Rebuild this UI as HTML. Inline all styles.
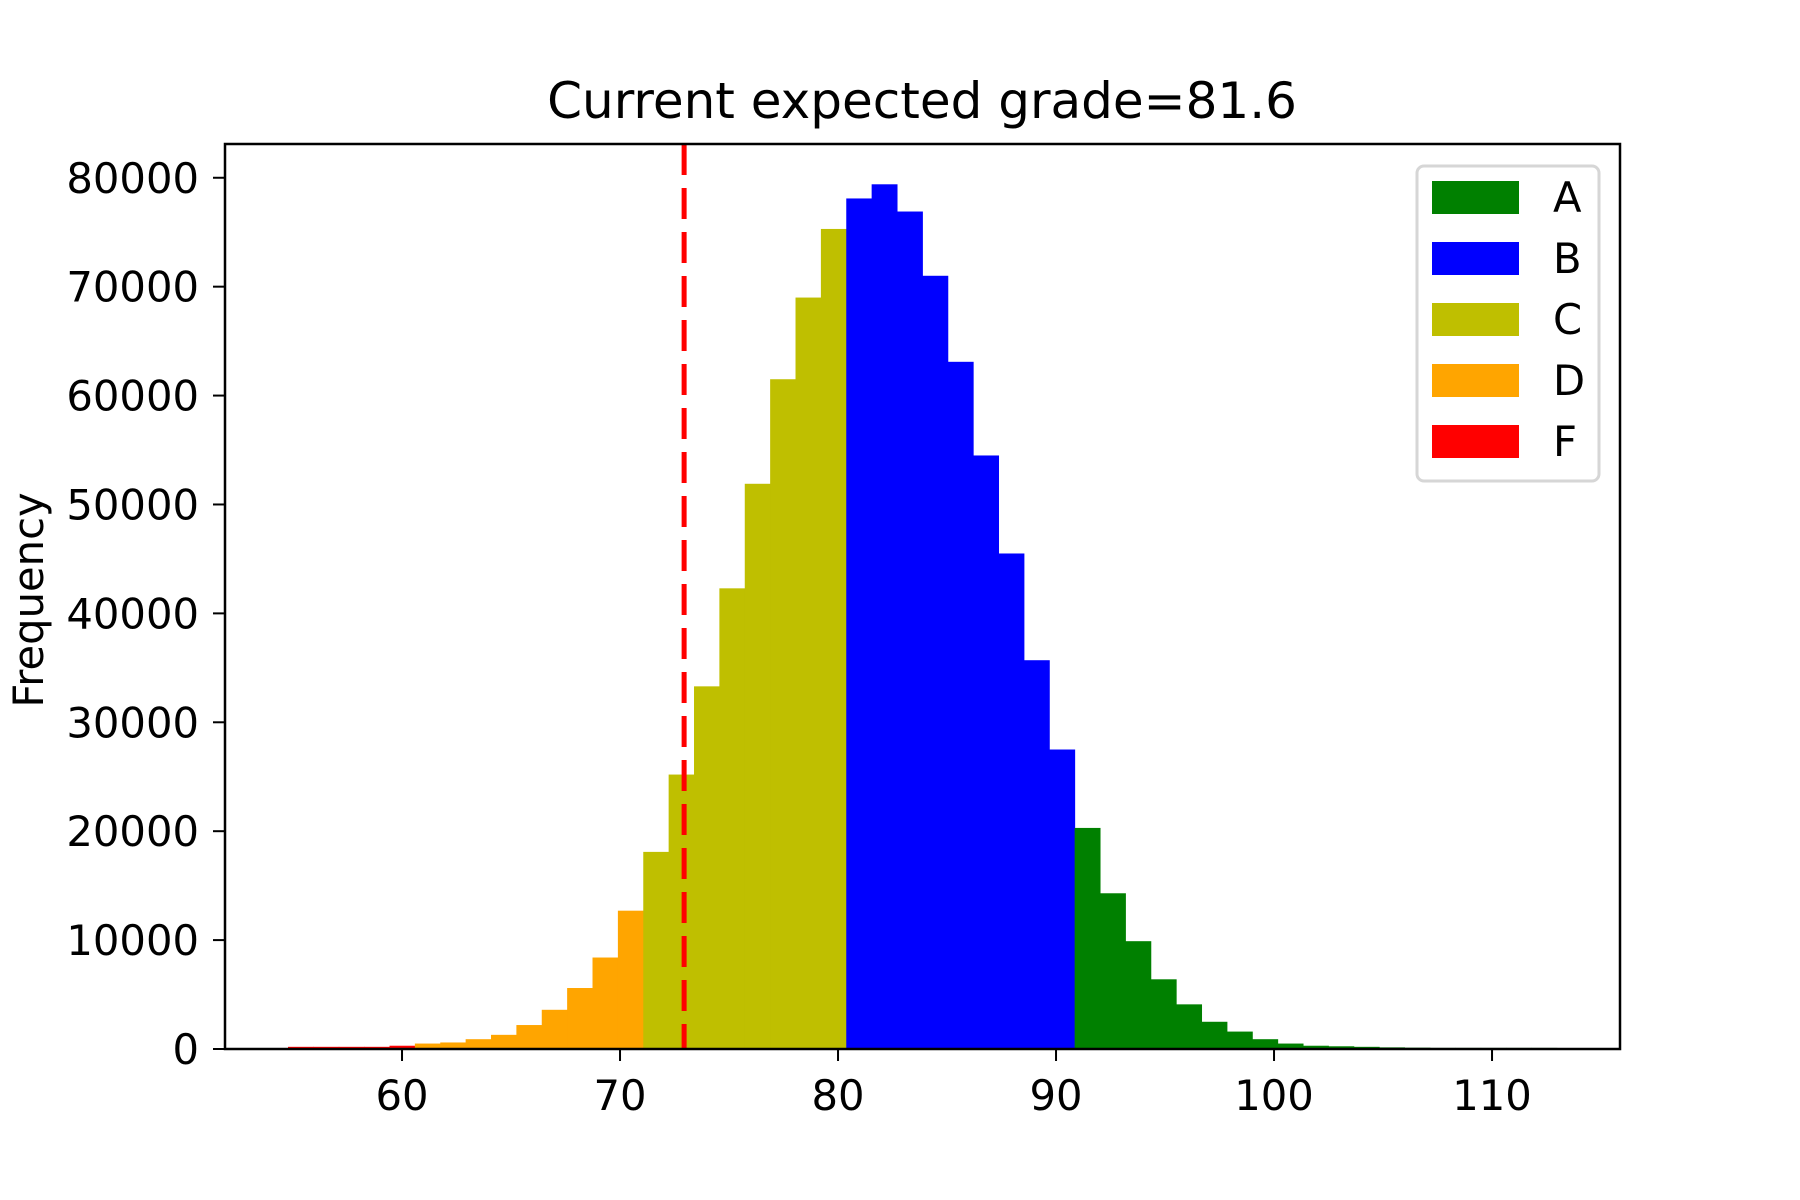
<!DOCTYPE html>
<html><head><meta charset="utf-8"><style>
html,body{margin:0;padding:0;background:#fff;}
svg{display:block;font-family:"DejaVu Sans","Liberation Sans",sans-serif;}
</style></head><body>
<svg id="chart" width="1800" height="1200" viewBox="0 0 1800 1200">
<text x="922" y="118" text-anchor="middle" font-size="50">Current expected grade=81.6</text>
<text transform="translate(43,600) rotate(-90)" text-anchor="middle" font-size="41.7">Frequency</text>
<g id="bars"></g>
<g id="xaxis"></g>
<g id="yaxis"></g>
<g id="marker"></g>
<rect x="225" y="144" width="1395" height="905" fill="none" stroke="#000" stroke-width="2.5"/>
<g id="legend"></g>
</svg>
<script>
const binStart = 54.77;
const binWidth = 1.164;
const counts = [200,200,200,200,300,500,600,900,1300,2200,3600,5600,8400,12700,18100,25200,33300,42300,51900,61500,69000,75300,78100,79400,76900,71000,63100,54500,45500,35700,27500,20300,14300,9900,6400,4100,2500,1600,900,500,300,250,200,150,120,100,100,100,100,100];
const grades = ["F","F","F","F","F","D","D","D","D","D","D","D","D","D","C","C","C","C","C","C","C","C","B","B","B","B","B","B","B","B","B","A","A","A","A","A","A","A","A","A","A","A","A","A","A","A","A","A","A","A"];
const legendLabels = ["A","B","C","D","F"];
const legendColors = ["#008000","#0000ff","#bfbf00","#ffa500","#ff0000"];
const xTicks = [60,70,80,90,100,110];
const yTicks = [0,10000,20000,30000,40000,50000,60000,70000,80000];
const expectedLine = 72.94;

const NS="http://www.w3.org/2000/svg";
const X0=225,X1=1620,Y0=1049,Y1=144;
const xMin=51.88,xMax=115.87,yMin=0,yMax=83100;
const sx=v=>X0+(v-xMin)/(xMax-xMin)*(X1-X0);
const sy=v=>Y0-(v-yMin)/(yMax-yMin)*(Y0-Y1);
const colorOf={};legendLabels.forEach((l,i)=>colorOf[l]=legendColors[i]);
function mk(tag,attrs,parent){const e=document.createElementNS(NS,tag);for(const k in attrs)e.setAttribute(k,attrs[k]);parent.appendChild(e);return e;}

const bars=document.getElementById('bars');
counts.forEach((c,i)=>{
  const a=sx(binStart+i*binWidth),b=sx(binStart+(i+1)*binWidth);
  const r=mk('rect',{x:a,y:sy(c),width:b-a+0.5,height:sy(0)-sy(c),fill:colorOf[grades[i]]},bars);
  
  
});

const xa=document.getElementById('xaxis');
xTicks.forEach(t=>{
  const x=sx(t);
  const l=mk('line',{x1:x,x2:x,y1:Y0,y2:Y0+12,stroke:'#000','stroke-width':2},xa);
  
  
  const tx=mk('text',{x:x,y:1110,'text-anchor':'middle','font-size':41.7},xa);
  tx.textContent=t;
  
  
});
const ya=document.getElementById('yaxis');
yTicks.forEach(t=>{
  const y=sy(t);
  const l=mk('line',{x1:X0-12,x2:X0,y1:y,y2:y,stroke:'#000','stroke-width':2},ya);
  
  
  const tx=mk('text',{x:X0-26,y:y+15,'text-anchor':'end','font-size':41.7},ya);
  tx.textContent=t;
  
  
});

const mg=document.getElementById('marker');
const ml=mk('line',{x1:sx(expectedLine),x2:sx(expectedLine),y1:Y1,y2:Y0,stroke:'#ff0000','stroke-width':5,'stroke-dasharray':'31 13'},mg);



const lg=document.getElementById('legend');
const box=mk('rect',{x:1417,y:166,width:182,height:315,rx:7,fill:'#fff','fill-opacity':0.8,stroke:'#d6d6d6','stroke-width':3},lg);


legendLabels.forEach((l,i)=>{
  const y=181+i*61;
  const p=mk('rect',{x:1432,y:y,width:87,height:33,fill:legendColors[i]},lg);
  
  
  const t=mk('text',{x:1553,y:y+31,'font-size':41.7},lg);
  t.textContent=l;
  
  
});
</script>
</body></html>
